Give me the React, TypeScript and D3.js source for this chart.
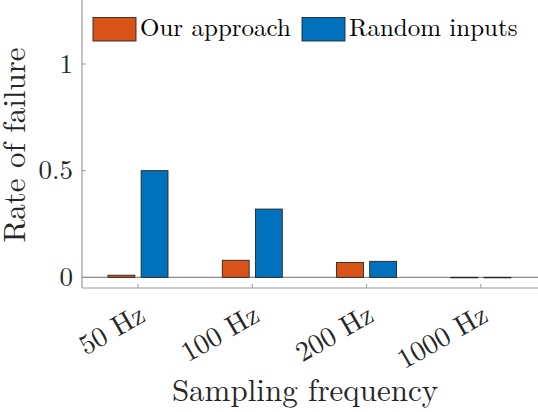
import React from 'react';
import * as d3 from 'd3';

const categories = ['50 Hz', '100 Hz', '200 Hz', '1000 Hz'];
const seriesNames = ['Our approach', 'Random inputs'];
const ourApproach = [0.01, 0.08, 0.07, 0];
const randomInputs = [0.5, 0.32, 0.075, 0];
const yTicks = [0, 0.5, 1];

const colors = ['#D95319', '#0072BD'];
const font = "'Latin Modern Roman'";
const textColor = '#262626';
const axisColor = '#9a9a9a';

const App = () => {
  const width = 538;
  const height = 412;

  // plot area
  const left = 82;
  const right = 538;
  const top = 0;
  const bottom = 288;

  const x = d3.scaleLinear().domain([-0.49, 3.5]).range([left, right]);
  const y = d3.scaleLinear().domain([-0.05, 1.3]).range([bottom, top]);

  const series = [ourApproach, randomInputs];
  const offset = 0.145;
  const barW = x(0.235) - x(0);

  return (
    <svg
      width={width}
      height={height}
      style={{ position: 'absolute', left: 0, top: 0, background: '#fff', fontFamily: font }}
    >
      <rect width={width} height={height} fill="#fff" />

      {/* zero baseline */}
      <line x1={left} x2={right} y1={y(0)} y2={y(0)} stroke="#8c8c8c" strokeWidth={1.2} />

      {/* bars */}
      {series.map((vals, s) =>
        vals.map((v, i) => {
          const cx = x(i) + (s === 0 ? -offset : offset) * (x(1) - x(0));
          const y0 = y(0);
          const y1 = y(v);
          return (
            <rect
              key={`${s}-${i}`}
              x={cx - barW / 2}
              y={Math.min(y0, y1)}
              width={barW}
              height={Math.max(Math.abs(y0 - y1), 0.5)}
              fill={colors[s]}
              stroke="#262626"
              strokeWidth={0.9}
            />
          );
        })
      )}

      {/* y axis */}
      <line x1={left} x2={left} y1={top} y2={bottom} stroke={axisColor} strokeWidth={1.2} />
      {yTicks.map(t => (
        <g key={t}>
          <line x1={left} x2={left + 4} y1={y(t)} y2={y(t)} stroke={axisColor} strokeWidth={1} />
          <text
            x={left - 9}
            y={y(t)}
            dy="0.32em"
            textAnchor="end"
            style={{ fontFamily: font, fontSize: 27 }}
            fill={textColor}
          >
            {t}
          </text>
        </g>
      ))}

      {/* x axis */}
      <line x1={left} x2={right} y1={bottom} y2={bottom} stroke={axisColor} strokeWidth={1.2} />
      {categories.map((c, i) => (
        <g key={c}>
          <line x1={x(i)} x2={x(i)} y1={bottom} y2={bottom - 4} stroke={axisColor} strokeWidth={1} />
          <text
            transform={`translate(${x(i) + 9},${320}) rotate(-30)`}
            textAnchor="end"
            style={{ fontFamily: font, fontSize: 28 }}
            fill={textColor}
          >
            {c}
          </text>
        </g>
      ))}

      {/* axis labels */}
      <text
        x={305}
        y={401}
        textAnchor="middle"
        style={{ fontFamily: font, fontSize: 31 }}
        fill={textColor}
      >
        Sampling frequency
      </text>
      <text
        transform={`translate(25,${145}) rotate(-90)`}
        textAnchor="middle"
        style={{ fontFamily: font, fontSize: 31 }}
        fill={textColor}
      >
        Rate of failure
      </text>

      {/* legend */}
      {[93, 302].map((lx, s) => (
        <g key={s}>
          <rect x={lx} y={17.5} width={43} height={23.5} fill={colors[s]} stroke="#262626" strokeWidth={0.9} />
          <text
            x={lx + 47}
            y={36}
            style={{ fontFamily: font, fontSize: 25 }}
            fill="#000"
          >
            {seriesNames[s]}
          </text>
        </g>
      ))}
    </svg>
  );
};

export default App;
